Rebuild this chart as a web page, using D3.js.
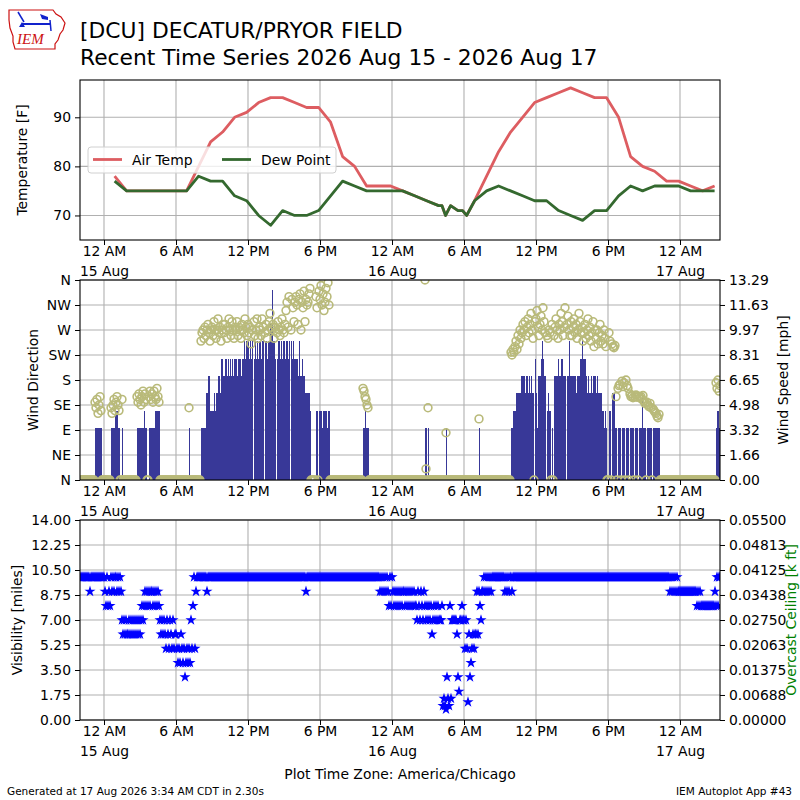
<!DOCTYPE html>
<html>
<head>
<meta charset="utf-8">
<script src="https://cdn.jsdelivr.net/npm/d3@7"></script>
<style>
  body { margin: 0; background: #fff; }
  svg text { font-family: "DejaVu Sans", sans-serif; }
</style>
</head>
<body>
<div id="chart"></div>
<script>
// ---- data ----
const plotStart = "2026-08-14 22:00",
    plotEnd = "2026-08-17 03:20";

// hourly / special METAR obs
const obsTimes = [
    "2026-08-15 00:53", "2026-08-15 01:53", "2026-08-15 02:53", "2026-08-15 03:53",
    "2026-08-15 04:53", "2026-08-15 05:53", "2026-08-15 06:53", "2026-08-15 07:53",
    "2026-08-15 08:53", "2026-08-15 09:53", "2026-08-15 10:53", "2026-08-15 11:53",
    "2026-08-15 12:53", "2026-08-15 13:53", "2026-08-15 14:53", "2026-08-15 15:53",
    "2026-08-15 16:53", "2026-08-15 17:53", "2026-08-15 18:53", "2026-08-15 19:53",
    "2026-08-15 20:53", "2026-08-15 21:53", "2026-08-15 22:53", "2026-08-15 23:53",
    "2026-08-16 00:53", "2026-08-16 01:53", "2026-08-16 02:53", "2026-08-16 03:53",
    "2026-08-16 04:10", "2026-08-16 04:28", "2026-08-16 04:53", "2026-08-16 05:30",
    "2026-08-16 05:53", "2026-08-16 06:13", "2026-08-16 06:53", "2026-08-16 07:53",
    "2026-08-16 08:53", "2026-08-16 09:53", "2026-08-16 10:53", "2026-08-16 11:53",
    "2026-08-16 12:53", "2026-08-16 13:53", "2026-08-16 14:53", "2026-08-16 15:53",
    "2026-08-16 16:53", "2026-08-16 17:53", "2026-08-16 18:53", "2026-08-16 19:53",
    "2026-08-16 20:53", "2026-08-16 21:53", "2026-08-16 22:53", "2026-08-16 23:53",
    "2026-08-17 00:53", "2026-08-17 01:53", "2026-08-17 02:53"
];
const airTemp = [
    78, 75, 75, 75, 75, 75, 75, 80, 85, 87, 90, 91, 93, 94, 94, 93, 92, 92, 89, 82, 80, 76, 76, 76,
    75, 74, 73, 72, 72, 70, 72, 71, 71, 70, 73,
    78, 83, 87, 90, 93, 94, 95, 96, 95, 94, 94, 90, 82, 80, 79, 77, 77,
    76, 75, 76
];
const dewPoint = [
    77, 75, 75, 75, 75, 75, 75, 78, 77, 77, 74, 73, 70, 68, 71, 70, 70, 71, 74, 77, 76, 75, 75, 75,
    75, 74, 73, 72, 72, 70, 72, 71, 71, 70, 73,
    75, 76, 75, 74, 73, 73, 71, 70, 69, 71, 71, 74, 76, 75, 76, 76, 76,
    75, 75, 75
];

// one-minute ASOS, kept every 5 min: one row per hour starting at plotStart
// speed in knots (hex digit, "." = missing)
const windSpeedKt = [
    "000000000000", "000333333300", "000000033334", "443300300000", "000000000333",
    "333343300333", "333444440000", "000000000000", "000000000000", "030000000000",
    "033333556644", "445455665776", "677676767677", "767776778788", "87878.787878",
    "8788.8878899", "b887.7887878", "878878.87877", "776866766555", "554000004404",
    "443444434400", "000000000000", "000000000000", "000000033433", "300000000000",
    "000000000000", "000000000000", "000000000000", "000000000330", "300000000000",
    "000000300000", "000000000000", "000000000000", "000300000000", "000000000000",
    "000000000003", "344455555666", "656656565507", "5366678766.4", "544030666676",
    "677666.66866", "666656667787", "776565565666", "565555443430", "044055533033",
    "303330333033", "330333033353", "330333330333", "333300000000", "000000000000",
    "000000000000", "000000000000", "000000000000", "34433"
];
// direction in degrees (calm rows left empty)
const windDirDeg = [
    [], [0, 0, 0, 140, 130, 145, 120, 135, 150, 125, 0, 0],
    [0, 0, 0, 0, 0, 0, 0, 130, 120, 135, 145, 125],
    [140, 150, 135, 125, 0, 0, 145, 0, 0, 0, 0, 0],
    [0, 0, 0, 0, 0, 0, 0, 0, 0, 150, 140, 155],
    [145, 135, 150, 160, 140, 155, 145, 0, 0, 150, 160, 145],
    [155, 140, 160, 150, 145, 165, 150, 140, 0, 0, 0, 0],
    [], [], [0, 130],
    [0, 250, 265, 270, 255, 275, 260, 270, 280, 265, 250, 270],
    [275, 260, 285, 270, 255, 270, 290, 265, 275, 250, 270, 280],
    [265, 280, 270, 255, 275, 290, 270, 260, 285, 270, 255, 275],
    [270, 285, 260, 275, 270, 255, 280, 270, 265, 290, 275, 260],
    [280, 265, 275, 245, 270, 0, 285, 260, 270, 290, 255, 275],
    [270, 260, 290, 275, 0, 265, 280, 255, 270, 285, 300, 275],
    [270, 280, 255, 275, 0, 265, 285, 270, 260, 275, 290, 270],
    [265, 280, 305, 320, 275, 330, 0, 270, 325, 310, 285, 320],
    [330, 315, 280, 325, 335, 270, 320, 310, 340, 285, 325, 315],
    [320, 335, 345, 0, 0, 0, 0, 0, 330, 310, 0, 340],
    [325, 350, 315, 335, 305, 320, 345, 330, 355, 315, 0, 0],
    [], [], [0, 0, 0, 0, 0, 0, 0, 165, 160, 150, 145, 135],
    [130], [], [], [],
    [0, 0, 0, 0, 0, 0, 0, 0, 0, 360, 20, 0],
    [130], [0, 0, 0, 0, 0, 0, 85], [], [], [0, 0, 0, 110], [],
    [0, 0, 0, 0, 0, 0, 0, 0, 0, 0, 0, 230],
    [225, 235, 230, 240, 250, 235, 260, 245, 270, 255, 265, 280],
    [270, 285, 260, 275, 290, 265, 280, 300, 270, 255, 0, 285],
    [290, 305, 275, 260, 280, 295, 270, 310, 285, 265, 0, 260],
    [255, 270, 265, 0, 280, 0, 260, 275, 290, 270, 255, 280],
    [270, 300, 285, 260, 275, 310, 0, 280, 295, 270, 260, 285],
    [260, 275, 290, 265, 280, 255, 270, 300, 285, 265, 275, 250],
    [265, 280, 255, 270, 290, 260, 275, 250, 265, 285, 240, 270],
    [255, 270, 245, 265, 280, 250, 260, 245, 270, 255, 240, 0],
    [0, 265, 250, 0, 245, 240, 238, 242, 150, 0, 165, 170],
    [172, 0, 178, 168, 175, 0, 180, 170, 165, 0, 155, 150],
    [152, 148, 0, 150, 153, 149, 0, 151, 148, 150, 145, 152],
    [142, 138, 0, 140, 135, 132, 138, 130, 0, 128, 125, 122],
    [120, 115, 112, 118], [], [], [], [],
    [175, 165, 180, 160, 170]
];
// visibility codes, same timing (a=10, o=1, q=1.25, h=1.5, r=0.75)
const visCodes = { a: 10, o: 1, q: 1.25, h: 1.5, r: 0.75 };
const visibility = [
    "aaaaaaaaaa9a", "aaaaaaaaaaaa", "a98a898a9a9a", "a9a9a9767676", "676767676767",
    "678789898989", "989898987676", "765765765756", "654546545345", "454758a59aaa",
    "aaaaaaa9aaaa", "aaaaaaaaaaaa", "aaaaaaaaaaaa", "aaaaaaaaaaaa", "aaaaaaaaaaaa",
    "aaaaaaaaaaaa", "aaaaaaaaaaaa", "aaaaaaaaaaaa", "aaaaaaaaaa9a", "aaaaaaaaaaaa",
    "aaaaaaaaaaaa", "aaaaaaaaaaaa", "aaaaaaaaaaaa", "aaaaaaaaaaaa", "aaaaaaaaaaaa",
    "9a9a9a9a98a8", "a98989898989", "989898989898", "879879879878", "787867878787",
    "778ohor3ho8h", "777776327787", "7575q6345656", "69698799a9a9", "a9a9aaaaaaaa",
    "aaaaa9a9a9aa", "9aaaaaaaaaaa", "aaaaaaaaaaaa", "aaaaaaaaaaaa", "aaaaaaaaaaaa",
    "aaaaaaaaaaaa", "aaaaaaaaaaaa", "aaaaaaaaaaaa", "aaaaaaaaaaaa", "aaaaaaaaaaaa",
    "aaaaaaaaaaaa", "aaaaaaaaaaaa", "aaaaaaaaaaaa", "aaaaaaaaaaaa", "aa9a9a9a9a99",
    "999999999999", "999998989888", "888888888889", "8a8aa"
];

const dirLabels = ["N", "NE", "E", "SE", "S", "SW", "W", "NW", "N"];
const dirTicks = [0, 45, 90, 135, 180, 225, 270, 315, 360];
const tempTicks = [70, 80, 90];
const speedTicks = [0, 1.66, 3.32, 4.98, 6.65, 8.31, 9.97, 11.63, 13.29];
const visTicks = [0, 1.75, 3.5, 5.25, 7, 8.75, 10.5, 12.25, 14];
const ceilTicks = [0, 0.00688, 0.01375, 0.02063, 0.0275, 0.03438, 0.04125, 0.04813, 0.055];

// ---- build series ----
const parseTime = d3.utcParse("%Y-%m-%d %H:%M");
const KtToMph = 1.15078, SampleMin = 5;
const tempSeries = obsTimes.map((s, i) => ({ t: parseTime(s), v: airTemp[i] }));
const dewSeries = obsTimes.map((s, i) => ({ t: parseTime(s), v: dewPoint[i] }));
const t0 = parseTime(plotStart);
const wind = [], vis = [];
windSpeedKt.forEach((row, h) => {
    row.split("").forEach((c, s) => {
        if (c === ".") return;
        const kt = parseInt(c, 16);
        wind.push({
            t: d3.utcMinute.offset(t0, h * 60 + s * SampleMin),
            mph: kt * KtToMph,
            dir: kt === 0 ? 0 : (windDirDeg[h][s] || 0)
        });
    });
});
visibility.forEach((row, h) => {
    row.split("").forEach((c, s) => {
        vis.push({
            t: d3.utcMinute.offset(t0, h * 60 + s * SampleMin),
            v: c in visCodes ? visCodes[c] : +c
        });
    });
});

// ---- layout ----
const FontSize = 13.9,
    Left = 80, Right = 720,
    Panels = { temp: [80, 240], wind: [280, 480], vis: [520, 720] },
    GridColor = "#b0b0b0";

const svg = d3.select("#chart").append("svg")
    .attr("width", 800).attr("height", 800);

const x = d3.scaleUtc().domain([t0, parseTime(plotEnd)]).range([Left, Right]);
const xTicks = d3.utcHour.every(6).range(t0, parseTime(plotEnd));
const yT = d3.scaleLinear().domain([65, 97.6]).range([Panels.temp[1], Panels.temp[0]]);
const yDir = d3.scaleLinear().domain([0, 360]).range([Panels.wind[1], Panels.wind[0]]);
const ySpd = d3.scaleLinear().domain([0, 13.29]).range([Panels.wind[1], Panels.wind[0]]);
const yVis = d3.scaleLinear().domain([0, 14]).range([Panels.vis[1], Panels.vis[0]]);
const yCig = d3.scaleLinear().domain([0, 0.055]).range([Panels.vis[1], Panels.vis[0]]);

function hourLabel(d) {
    const h = d.getUTCHours();
    if (h === 0) return "12 AM";
    if (h === 12) return "12 PM";
    return (h % 12) + (h < 12 ? " AM" : " PM");
}

function panel(name, yScale, yTicks) {
    const [top, bottom] = Panels[name];
    svg.append("clipPath").attr("id", "clip-" + name)
        .append("rect").attr("x", Left).attr("y", top)
        .attr("width", Right - Left).attr("height", bottom - top);
    const grid = svg.append("g").attr("class", "grid");
    grid.selectAll(".vx").data(xTicks).enter().append("line")
        .attr("x1", d => x(d)).attr("x2", d => x(d))
        .attr("y1", top).attr("y2", bottom)
        .attr("stroke", GridColor).attr("stroke-width", 1.1);
    grid.selectAll(".hy").data(yTicks).enter().append("line")
        .attr("x1", Left).attr("x2", Right)
        .attr("y1", d => yScale(d)).attr("y2", d => yScale(d))
        .attr("stroke", GridColor).attr("stroke-width", 1.1);
    return svg.append("g").attr("clip-path", `url(#clip-${name})`);
}

function frame(name) {
    const [top, bottom] = Panels[name];
    svg.append("rect").attr("x", Left).attr("y", top)
        .attr("width", Right - Left).attr("height", bottom - top)
        .attr("fill", "none").attr("stroke", "#000").attr("stroke-width", 1.1);
    const ax = svg.append("g").attr("transform", `translate(0,${bottom})`)
        .call(d3.axisBottom(x).tickValues(xTicks).tickSizeInner(5).tickSizeOuter(0)
            .tickPadding(1.5).tickFormat(hourLabel));
    ax.select(".domain").remove();
    ax.attr("font-size", FontSize).attr("font-family", "DejaVu Sans");
    ax.selectAll(".tick text").attr("fill", "#000");
    ax.selectAll(".tick").filter(d => d.getUTCHours() === 0)
        .append("text").attr("y", 36).attr("fill", "#000")
        .text(d3.utcFormat("%-d %b"));
}

function leftAxis(scale, ticks, fmt) {
    const ax = svg.append("g").attr("transform", `translate(${Left},0)`)
        .call(d3.axisLeft(scale).tickValues(ticks).tickSizeInner(5).tickSizeOuter(0)
            .tickPadding(4).tickFormat(fmt));
    ax.select(".domain").remove();
    ax.attr("font-size", FontSize).attr("font-family", "DejaVu Sans");
    ax.selectAll(".tick text").attr("fill", "#000");
}

function rightAxis(scale, ticks, fmt) {
    const ax = svg.append("g").attr("transform", `translate(${Right},0)`)
        .call(d3.axisRight(scale).tickValues(ticks).tickSizeInner(5).tickSizeOuter(0)
            .tickPadding(4).tickFormat(fmt));
    ax.select(".domain").remove();
    ax.attr("font-size", FontSize).attr("font-family", "DejaVu Sans");
    ax.selectAll(".tick text").attr("fill", "#000");
}

function yLabel(text, cx, cy, color) {
    svg.append("text")
        .attr("transform", `translate(${cx},${cy}) rotate(-90)`)
        .attr("text-anchor", "middle").attr("font-size", FontSize)
        .attr("fill", color || "#000").text(text);
}

// ---- temperature panel ----
const gT = panel("temp", yT, tempTicks);
const line = d3.line().x(d => x(d.t)).y(d => yT(d.v));
gT.append("path").datum(tempSeries).attr("d", line)
    .attr("fill", "none").attr("stroke", "#dd5d61").attr("stroke-width", 2.8)
    .attr("stroke-linejoin", "round");
gT.append("path").datum(dewSeries).attr("d", line)
    .attr("fill", "none").attr("stroke", "#34692f").attr("stroke-width", 2.8)
    .attr("stroke-linejoin", "round");
frame("temp");
leftAxis(yT, tempTicks, d3.format("d"));
yLabel("Temperature [F]", 27, 160);

// legend
const lg = svg.append("g");
lg.append("rect").attr("x", 88).attr("y", 147).attr("width", 248).attr("height", 26)
    .attr("rx", 3).attr("fill", "#fff").attr("fill-opacity", 0.8)
    .attr("stroke", "#d0d0d0");
[["Air Temp", "#dd5d61", 93], ["Dew Point", "#34692f", 222]].forEach(([lab, col, lx]) => {
    lg.append("line").attr("x1", lx).attr("x2", lx + 29).attr("y1", 159.5).attr("y2", 159.5)
        .attr("stroke", col).attr("stroke-width", 2.8);
    lg.append("text").attr("x", lx + 39).attr("y", 164.5)
        .attr("font-size", FontSize).text(lab);
});

// ---- wind panel ----
const gW = panel("wind", yDir, dirTicks);
gW.selectAll(".bar").data(wind.filter(d => d.mph > 0)).enter().append("rect")
    .attr("x", d => x(d.t)).attr("width", 1)
    .attr("y", d => ySpd(d.mph)).attr("height", d => ySpd(0) - ySpd(d.mph))
    .attr("fill", "#383898").attr("shape-rendering", "crispEdges");
gW.selectAll(".dir").data(wind).enter().append("circle")
    .attr("cx", d => x(d.t)).attr("cy", d => yDir(d.dir)).attr("r", 3.9)
    .attr("fill", "none").attr("stroke", "#b9ba7a").attr("stroke-width", 1.6);
frame("wind");
leftAxis(yDir, dirTicks, (d, i) => dirLabels[i]);
rightAxis(ySpd, speedTicks, d3.format(".2f"));
yLabel("Wind Direction", 38, 380);
yLabel("Wind Speed [mph]", 788, 380);

// ---- visibility panel ----
const gV = panel("vis", yVis, visTicks);
const star = d3.symbol().type(d3.symbolStar).size(38);
gV.selectAll(".star").data(vis).enter().append("path")
    .attr("d", star)
    .attr("transform", d => `translate(${x(d.t)},${yVis(d.v)})`)
    .attr("fill", "#0000ff");
frame("vis");
leftAxis(yVis, visTicks, d3.format(".2f"));
rightAxis(yCig, ceilTicks, d3.format(".5f"));
yLabel("Visibility [miles]", 22, 620);
yLabel("Overcast Ceiling [k ft]", 796, 620, "#008000");

// ---- titles and footer ----
svg.append("text").attr("x", 80).attr("y", 38).attr("font-size", 21.8)
    .text("[DCU] DECATUR/PRYOR FIELD");
svg.append("text").attr("x", 80).attr("y", 65).attr("font-size", 21.8)
    .text("Recent Time Series 2026 Aug 15 - 2026 Aug 17");
svg.append("text").attr("x", 400).attr("y", 779).attr("text-anchor", "middle")
    .attr("font-size", FontSize).text("Plot Time Zone: America/Chicago");
svg.append("text").attr("x", 7).attr("y", 795).attr("font-size", 10.5)
    .text("Generated at 17 Aug 2026 3:34 AM CDT in 2.30s");
svg.append("text").attr("x", 792).attr("y", 795).attr("text-anchor", "end")
    .attr("font-size", 10.5).text("IEM Autoplot App #43");

// logo
const logo = svg.append("g");
logo.append("path")
    .attr("d", "M9,10 L53,10 L56,14 L61,17 L65,23 L63,30 L60,34 L58,40 L55,44 L55,49 L15,49 L13,42 L13,36 L10,28 L9,20 Z")
    .attr("fill", "none").attr("stroke", "#cc1111").attr("stroke-width", 1.2);
logo.append("line").attr("x1", 22).attr("x2", 50).attr("y1", 24).attr("y2", 24)
    .attr("stroke", "#1122cc").attr("stroke-width", 2);
logo.append("line").attr("x1", 18).attr("x2", 24).attr("y1", 12).attr("y2", 22)
    .attr("stroke", "#1122cc").attr("stroke-width", 1.5);
logo.append("path").attr("d", "M40,14 L48,17 L48,20 L42,19 Z").attr("fill", "#1122cc");
logo.append("line").attr("x1", 50).attr("x2", 51).attr("y1", 20).attr("y2", 31)
    .attr("stroke", "#1122cc").attr("stroke-width", 1.5);
logo.append("path").attr("d", "M19,27 L22,22 L25,27 Z").attr("fill", "#1122cc");
logo.append("text").attr("x", 17).attr("y", 44).attr("font-size", 15)
    .attr("font-style", "italic").attr("fill", "#cc1111")
    .style("font-family", "'Liberation Serif', serif").text("IEM");
</script>
</body>
</html>
